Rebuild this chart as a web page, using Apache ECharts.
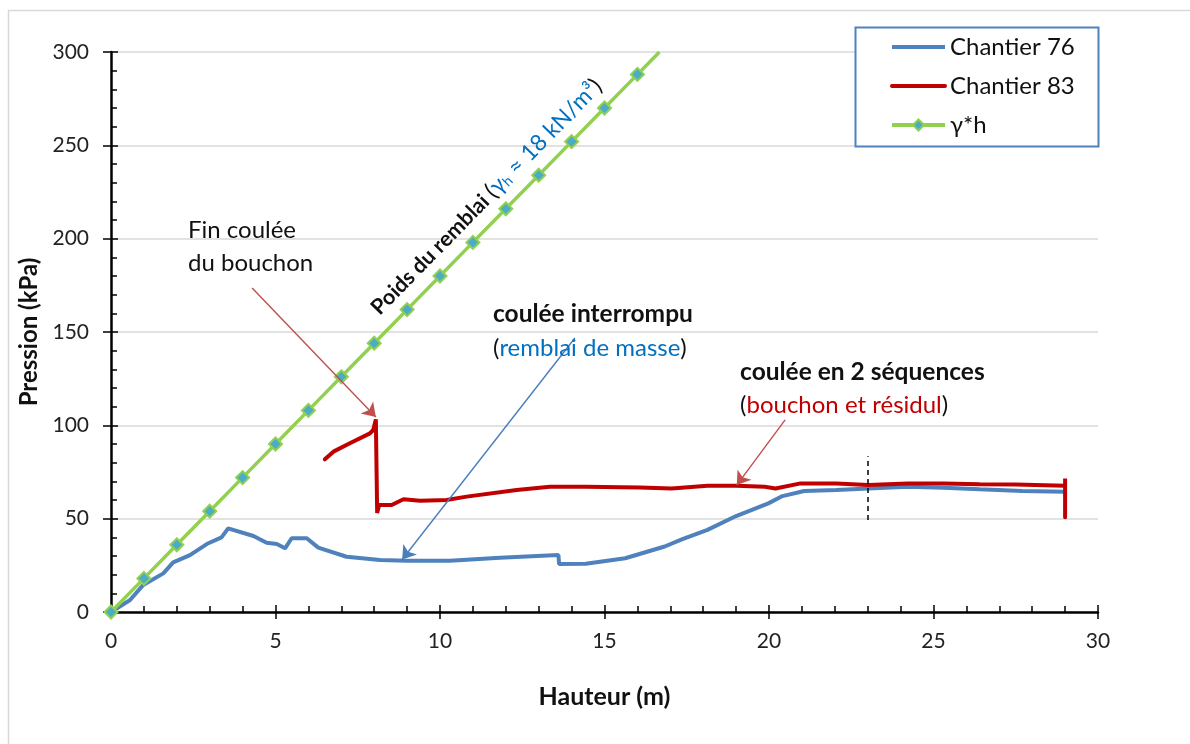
<!DOCTYPE html>
<html>
<head>
<meta charset="utf-8">
<script src="https://cdn.jsdelivr.net/npm/echarts@6/dist/echarts.min.js"></script>
<style>html,body{margin:0;padding:0;background:#fff}#c{width:1190px;height:744px}</style>
</head>
<body>
<div id="c"></div>
<script>
// ---- data ----
const c76X = [0, 0.58, 0.98, 1.59, 1.89, 2.4, 2.91, 3.36, 3.56, 4.33, 4.73, 5.04, 5.29, 5.49, 5.95, 6.3, 7.16, 8.18, 8.99, 10.3, 11.82, 13.6, 13.62, 14.43, 15.63, 16.83, 17.37, 18.13, 19.0, 19.98, 20.41, 21.07, 22.04, 23.02, 24.22, 25.3, 26.4, 27.7, 29.0];
const c76Y = [0, 6.4, 14.5, 20.7, 26.6, 30.5, 36.4, 40.0, 44.8, 40.7, 37.1, 36.4, 34.1, 39.5, 39.5, 34.5, 29.6, 27.9, 27.5, 27.5, 29.1, 30.5, 25.7, 25.8, 28.8, 35.1, 39.0, 44.0, 51.4, 58.2, 62.1, 64.8, 65.3, 66.2, 67.1, 66.5, 65.7, 64.8, 64.4];
const c83X = [6.5, 6.76, 7.26, 7.87, 7.97, 8.05, 8.09, 8.09, 8.15, 8.53, 8.89, 9.39, 10.2, 10.81, 12.33, 13.34, 14.43, 16.07, 17.04, 18.13, 19.0, 19.87, 20.2, 20.96, 22.04, 23.02, 24.22, 25.3, 26.4, 27.5, 29.0, 29.0, 29.0];
const c83Y = [81.8, 85.9, 90.4, 95.7, 97.5, 103.2, 103.0, 53.0, 57.3, 57.3, 60.4, 59.6, 60.0, 61.8, 65.4, 67.1, 67.1, 66.7, 66.2, 67.6, 67.6, 67.1, 66.2, 68.9, 68.9, 68.0, 68.9, 68.9, 68.5, 68.3, 67.6, 71.5, 50.7];
const gammaX = [0, 1, 2, 3, 4, 5, 6, 7, 8, 9, 10, 11, 12, 13, 14, 15, 16, 16.67];
const gammaY = [0, 18, 36, 54, 72, 90, 108, 126, 144, 162, 180, 198, 216, 234, 252, 270, 288, 300];
const xTicks = [0, 30, 5];
const yTicks = [0, 300, 50];
const seriesNames = ['Chantier 76', 'Chantier 83', 'γ*h'];

// annotation arrows [x1,y1,x2,y2] in data units
const arrowFin = [4.29, 173.6, 8.05, 104.5];
const arrowInterrompu = [14.1, 146.8, 8.85, 28.1];
const arrowSequences = [20.49, 102.9, 19.02, 68.0];
const dashedMark = [23, 49.3, 23, 83.5];
// annotation text anchors (data units)
const anchorFin = [2.34, 195.8];
const anchorInterrompu = [11.61, 150.5];
const anchorSequences = [19.12, 119.7];
const anchorPoids = [8.26, 157.0];

const F = 'Lato, "Open Sans", sans-serif';

function pairs(xs, ys) { return xs.map((x, i) => [x, ys[i]]); }
const gammaData = pairs(gammaX, gammaY).map((p, i) => i === gammaX.length - 1 ? { value: p, symbol: 'none' } : p);

function arrowItem(a, color) {
  return [{ coord: [a[0], a[1]], symbol: 'none', lineStyle: { color: color, width: 1.4, type: 'solid' } },
          { coord: [a[2], a[3]], symbol: 'arrow', symbolSize: 13 }];
}

const chart = echarts.init(document.getElementById('c'), null, { renderer: 'canvas' });
const option = {
  animation: false,
  backgroundColor: '#fff',
  grid: { left: 111, right: 92, top: 52, bottom: 132, containLabel: false },
  legend: {
    orient: 'vertical', left: 890, top: 33, padding: 0,
    itemWidth: 53, itemHeight: 14, itemGap: 11,
    textStyle: { fontFamily: F, fontSize: 24, lineHeight: 28, color: '#111' },
    data: [
      { name: seriesNames[0], itemStyle: { opacity: 0 }, lineStyle: { width: 4 } },
      { name: seriesNames[1], itemStyle: { opacity: 0 }, lineStyle: { width: 4 } },
      { name: seriesNames[2], lineStyle: { width: 4 } }
    ], z: 10
  },
  xAxis: [
    {
      type: 'value', min: xTicks[0], max: xTicks[1], interval: xTicks[2], position: 'bottom',
      axisLine: { show: true, onZero: false, lineStyle: { color: '#000', width: 2.5 } },
      axisTick: { show: true, inside: false, length: 7, lineStyle: { color: '#000', width: 1.5 } },
      minorTick: { show: false },
      splitLine: { show: false },
      axisLabel: { margin: 19, fontFamily: F, fontSize: 21, color: '#222' },
      name: 'Hauteur (m)', nameLocation: 'middle', nameGap: 72,
      nameTextStyle: { fontFamily: F, fontSize: 25, fontWeight: 'bold', color: '#111' }
    },
    {
      type: 'value', min: xTicks[0], max: xTicks[1], interval: xTicks[2], position: 'bottom',
      axisLine: { show: false, onZero: false },
      axisTick: { show: true, inside: true, length: 7, lineStyle: { color: '#000', width: 1.5 } },
      minorTick: { show: true, splitNumber: 5, length: 6, lineStyle: { color: '#000', width: 1.5 } },
      splitLine: { show: false }, axisLabel: { show: false }
    }
  ],
  yAxis: [
    {
      type: 'value', min: yTicks[0], max: yTicks[1], interval: yTicks[2], position: 'left',
      axisLine: { show: true, onZero: false, lineStyle: { color: '#000', width: 2.5 } },
      axisTick: { show: true, inside: false, length: 8, lineStyle: { color: '#000', width: 1.5 } },
      minorTick: { show: false },
      splitLine: { show: true, lineStyle: { color: '#D9D9D9', width: 1.5 } },
      axisLabel: { margin: 22, fontFamily: F, fontSize: 21, color: '#222' },
      name: 'Pression (kPa)', nameLocation: 'middle', nameGap: 66, nameRotate: 90,
      nameTextStyle: { fontFamily: F, fontSize: 24, fontWeight: 'bold', color: '#111' }
    },
    {
      type: 'value', min: yTicks[0], max: yTicks[1], interval: yTicks[2], position: 'left',
      axisLine: { show: false, onZero: false },
      axisTick: { show: true, inside: true, length: 7, lineStyle: { color: '#000', width: 1.5 } },
      minorTick: { show: true, splitNumber: 5, length: 6, lineStyle: { color: '#000', width: 1.5 } },
      splitLine: { show: false }, axisLabel: { show: false }
    }
  ],
  series: [
    {
      name: seriesNames[0], type: 'line', xAxisIndex: 0, yAxisIndex: 0,
      data: pairs(c76X, c76Y), symbol: 'none', showSymbol: false,
      lineStyle: { color: '#4F81BD', width: 4 }, itemStyle: { color: '#4F81BD' }, z: 2,
      markLine: {
        silent: true, symbol: ['none', 'arrow'], symbolSize: 13, label: { show: false },
        data: [arrowItem(arrowInterrompu, '#4A7EBB')]
      }
    },
    {
      name: seriesNames[1], type: 'line', xAxisIndex: 0, yAxisIndex: 0,
      data: pairs(c83X, c83Y), symbol: 'none', showSymbol: false,
      lineStyle: { color: '#C00000', width: 4, cap: 'round' }, itemStyle: { color: '#C00000' }, z: 2,
      markLine: {
        silent: true, symbol: ['none', 'arrow'], symbolSize: 13, label: { show: false },
        data: [arrowItem(arrowFin, '#C0504D'), arrowItem(arrowSequences, '#C0504D'),
          [{ coord: [dashedMark[0], dashedMark[1]], symbol: 'none', lineStyle: { color: '#000', width: 1.5, type: [5, 4] } },
           { coord: [dashedMark[2], dashedMark[3]], symbol: 'none' }]]
      }
    },
    {
      name: seriesNames[2], type: 'line', xAxisIndex: 0, yAxisIndex: 0,
      data: gammaData, symbol: 'diamond', symbolSize: 13, showSymbol: true,
      lineStyle: { color: '#92D050', width: 3.5 },
      itemStyle: { color: '#4BACC6', borderColor: '#92D050', borderWidth: 2 }, z: 3
    }
  ]
};
chart.setOption(option);

function px(p) { return chart.convertToPixel({ xAxisIndex: 0, yAxisIndex: 0 }, p); }
const pFin = px(anchorFin), pInt = px(anchorInterrompu), pSeq = px(anchorSequences), pPoids = px(anchorPoids);
const rot = Math.atan2(px([0, 0])[1] - px([10, 180])[1], px([10, 180])[0] - px([0, 0])[0]);

chart.setOption({
  graphic: [
    { type: 'rect', z: 0, silent: true, shape: { x: 8.5, y: 10.5, width: 1200, height: 800 },
      style: { fill: 'none', stroke: '#D9D9D9', lineWidth: 1.5 } },
    { type: 'rect', z: 5, silent: true, shape: { x: 855.5, y: 27.5, width: 243, height: 119 },
      style: { fill: '#fff', stroke: '#4F81BD', lineWidth: 2 } },
    { type: 'text', z: 20, x: pFin[0], y: pFin[1], silent: true,
      style: { text: 'Fin coulée\ndu bouchon', font: '24px ' + F, fill: '#111', lineHeight: 33,
        align: 'left', verticalAlign: 'middle' } },
    { type: 'text', z: 20, x: pInt[0], y: pInt[1], silent: true,
      style: { text: '{b|coulée interrompu}\n{k|(}{u|remblai de masse}{k|)}', align: 'left', verticalAlign: 'middle',
        rich: {
          b: { fontFamily: F, fontSize: 24.5, fontWeight: 'bold', fill: '#111', lineHeight: 34 },
          k: { fontFamily: F, fontSize: 24, fill: '#111', lineHeight: 34 },
          u: { fontFamily: F, fontSize: 24, fill: '#0070C0', lineHeight: 34 }
        } } },
    { type: 'text', z: 20, x: pSeq[0], y: pSeq[1], silent: true,
      style: { text: '{b|coulée en 2 séquences}\n{k|(}{r|bouchon et résidul}{k|)}', align: 'left', verticalAlign: 'middle',
        rich: {
          b: { fontFamily: F, fontSize: 24.5, fontWeight: 'bold', fill: '#111', lineHeight: 33 },
          k: { fontFamily: F, fontSize: 24, fill: '#111', lineHeight: 33 },
          r: { fontFamily: F, fontSize: 24, fill: '#C00000', lineHeight: 33 }
        } } },
    { type: 'text', z: 20, x: pPoids[0], y: pPoids[1], rotation: rot, silent: true,
      style: { text: '{b|Poids du remblai }{k|(}{g|γ}{s|h}{g| ≈ 18 kN/m³}{k|)}', align: 'left', verticalAlign: 'bottom',
        rich: {
          b: { fontFamily: F, fontSize: 21.5, fontWeight: 'bold', fill: '#111', lineHeight: 27, verticalAlign: 'bottom' },
          k: { fontFamily: F, fontSize: 23, fill: '#111', lineHeight: 27, verticalAlign: 'bottom' },
          g: { fontFamily: F, fontSize: 23, fill: '#0070C0', lineHeight: 27, verticalAlign: 'bottom' },
          s: { fontFamily: F, fontSize: 14, fill: '#0070C0', lineHeight: 20, verticalAlign: 'bottom' }
        } } }
  ]
});
</script>
</body>
</html>
